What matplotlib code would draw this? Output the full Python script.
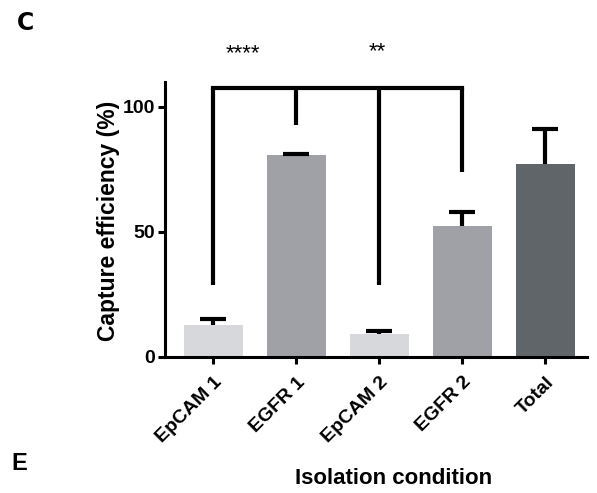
import matplotlib
matplotlib.use("Agg")
import matplotlib.pyplot as plt
import numpy as np

plt.rcParams['font.family'] = ['Liberation Sans', 'DejaVu Sans']

conditions = ['EpCAM 1', 'EGFR 1', 'EpCAM 2', 'EGFR 2', 'Total']
means = [12.7, 80.7, 9.3, 52.4, 77.2]
sem = [2.4, 0.3, 1.2, 5.5, 14.1]
bar_colors = ['#d6d8db', '#9fa1a7', '#d6d8db', '#9fa1a7', '#5f6569']

# significance brackets: (left bar, right bar, drop at left, drop at right, label)
bracket_y = 107.5
brackets = [(0, 1, 28.8, 92.8, '****'), (2, 3, 28.8, 74.0, '**')]
star_x = [0.36, 1.98]
star_y = [121.2, 122.0]

fig = plt.figure(figsize=(5.97, 4.93), dpi=100)
ax = fig.add_axes([0.2764, 0.2759, 0.7066, 0.558])

x = np.arange(len(conditions))
ax.bar(x, means, width=0.71, color=bar_colors, zorder=2)
eb = ax.errorbar(x, means, yerr=[np.zeros(len(sem)), sem], fmt='none', ecolor='black',
                 elinewidth=3, capsize=9.5, capthick=3, zorder=3)
# only the upper cap, like the original
eb[1][0].set_visible(False)

lw = 3
for (a, b, da, db, lab), sx, sy in zip(brackets, star_x, star_y):
    ax.plot([a, a], [da, bracket_y], color='black', lw=lw, solid_capstyle='butt', clip_on=False)
    ax.plot([b, b], [db, bracket_y], color='black', lw=lw, solid_capstyle='butt', clip_on=False)
    ax.text(sx, sy, lab, ha='center', va='center', fontsize=16, clip_on=False)
ax.plot([0, 3], [bracket_y, bracket_y], color='black', lw=lw, solid_capstyle='projecting', clip_on=False)

ax.set_xlim(-0.58, 4.5)
ax.set_ylim(0, 110)
ax.set_yticks([0, 50, 100])
ax.set_xticks(x)
ax.set_xticklabels(conditions, rotation=45, ha='right', rotation_mode='anchor')
for lab in ax.get_xticklabels() + ax.get_yticklabels():
    lab.set_fontweight('bold')
    lab.set_fontsize(14)

for side in ['top', 'right']:
    ax.spines[side].set_visible(False)
for side in ['left', 'bottom']:
    ax.spines[side].set_linewidth(2.2)
ax.tick_params(axis='y', width=2.2, length=5, pad=2)
ax.tick_params(axis='x', width=2.2, length=5, pad=7)

fig.text(108 / 597, 1 - 221 / 493, 'Capture efficiency (%)', rotation=90,
         ha='center', va='center', fontsize=16.5, fontweight='bold')
fig.text(394 / 597, 1 - 478 / 493, 'Isolation condition', ha='center', va='center',
         fontsize=16, fontweight='bold')
fig.text(25 / 597, 1 - 23 / 493, 'C', ha='center', va='center', fontsize=17,
         fontweight='bold', family=['DejaVu Sans'])
fig.text(19 / 597, 1 - 464 / 493, 'E', ha='center', va='center', fontsize=17,
         fontweight='bold')

fig.savefig('out.png', dpi=100)
